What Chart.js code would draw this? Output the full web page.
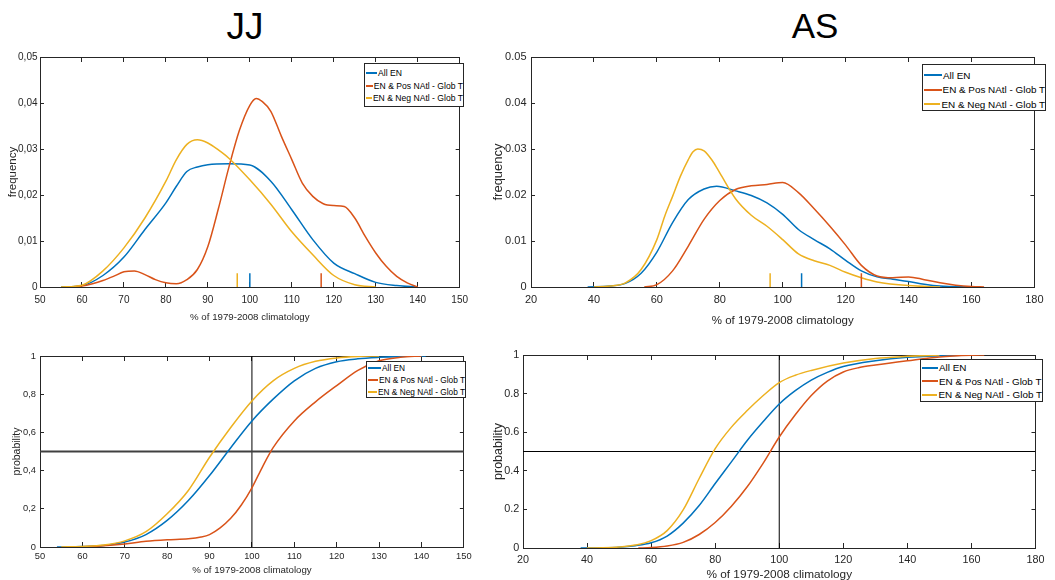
<!DOCTYPE html>
<html>
<head>
<meta charset="utf-8">
<script src="https://cdn.jsdelivr.net/npm/chart.js@4.4.1/dist/chart.umd.min.js"></script>
<style>
  body { margin: 0; background: #fff; width: 1055px; height: 580px; overflow: hidden; position: relative;
         font-family: 'Liberation Sans', Arial, sans-serif; }
  .panel { position: absolute; }
  .title { position: absolute; top: 6px; width: 120px; text-align: center; color: #000; }
  .legend { position: absolute; background: #fff; border: 1px solid #262626; box-sizing: border-box; color: #000; }
  .legend .row { display: flex; align-items: center; white-space: nowrap; }
  .legend .ln { display: inline-block; height: 2px; margin-right: 1px; }
</style>
</head>
<body>
<div class="title" style="left:185px; font-size:37px;">JJ</div>
<div class="title" style="left:755px; font-size:35px;">AS</div>

<div class="panel" style="left:0; top:40px; width:480px; height:300px;"><canvas id="jjPdf"></canvas></div>
<div class="panel" style="left:480px; top:40px; width:575px; height:300px;"><canvas id="asPdf"></canvas></div>
<div class="panel" style="left:0; top:340px; width:480px; height:240px;"><canvas id="jjCdf"></canvas></div>
<div class="panel" style="left:480px; top:340px; width:575px; height:250px;"><canvas id="asCdf"></canvas></div>

<div id="legJjPdf" class="legend" style="left:364px; top:63px; width:100px; height:44px; padding:3px 0 0 1px; font-size:8.6px;"></div>
<div id="legAsPdf" class="legend" style="left:922px; top:64px; width:124px; height:47px; padding:3px 0 0 1px; font-size:9.9px;"></div>
<div id="legJjCdf" class="legend" style="left:366px; top:361px; width:100px; height:37px; padding:0 0 0 1px; font-size:8.3px;"></div>
<div id="legAsCdf" class="legend" style="left:920px; top:359px; width:123px; height:43px; padding:1px 0 0 1px; font-size:9.9px;"></div>

<script>
// ---- data ----
const seriesNames = ['All EN', 'EN & Pos NAtl - Glob T', 'EN & Neg NAtl - Glob T'];
const seriesColors = ['#0072BD', '#D95319', '#EDB120'];

// JJ, probability density
const jjPdfBlueX = [55, 60, 65, 70, 75, 80, 82.5, 85, 87.5, 90, 95, 100, 105, 110, 115, 120, 125, 130, 135, 140];
const jjPdfBlue  = [0, 0.0003, 0.0025, 0.0065, 0.0125, 0.0183, 0.0219, 0.0251, 0.0261, 0.0266, 0.0268, 0.0265, 0.023, 0.0168, 0.0103, 0.0052, 0.0029, 0.001, 0.0003, 0];
const jjPdfRedX  = [57, 60, 62.5, 65, 67.5, 70, 72.5, 75, 77.5, 80, 82.5, 85, 87.5, 90, 92.5, 95, 97.5, 100, 101.5, 103, 105, 107.5, 110, 112.5, 115, 117.5, 120, 122.5, 125, 127.5, 130, 132.5, 135, 137.5, 140];
const jjPdfRed   = [0, 0.0002, 0.0007, 0.0014, 0.0023, 0.0033, 0.0035, 0.0027, 0.0016, 0.0009, 0.0007, 0.0016, 0.0038, 0.0088, 0.017, 0.026, 0.034, 0.0395, 0.041, 0.0403, 0.0382, 0.0328, 0.0277, 0.0226, 0.0197, 0.0181, 0.0177, 0.0175, 0.015, 0.011, 0.0074, 0.0045, 0.0023, 0.0009, 0];
const jjPdfYelX  = [55, 60, 65, 70, 75, 80, 82.5, 85, 87.5, 90, 92.5, 95, 100, 105, 110, 115, 120, 125, 130];
const jjPdfYel   = [0, 0.0004, 0.0035, 0.0085, 0.015, 0.023, 0.0277, 0.031, 0.032, 0.0313, 0.0298, 0.028, 0.0233, 0.018, 0.012, 0.007, 0.0025, 0.0005, 0];
const jjMedians  = [100, 117, 97];     // blue, red, yellow
const medianMark = 0.003;

// AS, probability density
const asPdfBlueX = [38, 45, 50, 55, 60, 65, 70, 75, 79, 85, 90, 95, 100, 105, 110, 115, 120, 125, 130, 135, 140, 145, 150, 160];
const asPdfBlue  = [0, 0.0002, 0.0008, 0.003, 0.0076, 0.014, 0.019, 0.0213, 0.0219, 0.0209, 0.0199, 0.0183, 0.0158, 0.0125, 0.0103, 0.0083, 0.0058, 0.0035, 0.0022, 0.0017, 0.0012, 0.0006, 0.0002, 0];
const asPdfRedX  = [56, 60, 65, 70, 75, 80, 85, 90, 95, 100, 105, 110, 115, 120, 125, 130, 135, 140, 145, 150, 155, 160, 164];
const asPdfRed   = [0, 0.0005, 0.0035, 0.0089, 0.0147, 0.0188, 0.0212, 0.022, 0.0223, 0.0227, 0.0205, 0.017, 0.0132, 0.0091, 0.0047, 0.0024, 0.002, 0.0022, 0.0016, 0.0009, 0.0004, 0.0001, 0];
const asPdfYelX  = [40, 45, 50, 55, 60, 62.5, 65, 67.5, 70, 71.5, 73, 75, 77.5, 80, 85, 90, 95, 100, 105, 110, 115, 120, 125, 130, 140, 150];
const asPdfYel   = [0, 0.0002, 0.0009, 0.0038, 0.0103, 0.0154, 0.0197, 0.0241, 0.0277, 0.0294, 0.030, 0.0296, 0.0276, 0.0248, 0.0192, 0.0156, 0.0132, 0.0103, 0.0072, 0.0057, 0.0047, 0.0032, 0.002, 0.0011, 0.0003, 0];
const asMedians  = [106, 125, 96];

// JJ, cumulative probability
const jjCdfBlueX = [54, 60, 65, 70, 75, 80, 85, 90, 95, 100, 105, 110, 115, 120, 125, 130, 135, 141];
const jjCdfBlue  = [0, 0.002, 0.008, 0.026, 0.065, 0.139, 0.243, 0.374, 0.52, 0.66, 0.774, 0.87, 0.935, 0.97, 0.985, 0.993, 0.998, 1];
const jjCdfRedX  = [57, 60, 65, 70, 75, 80, 85, 88, 90, 92.5, 95, 97.5, 100, 102.5, 105, 110, 115, 120, 125, 130, 135, 140];
const jjCdfRed   = [0, 0.001, 0.006, 0.016, 0.03, 0.038, 0.043, 0.052, 0.065, 0.1, 0.15, 0.22, 0.31, 0.42, 0.52, 0.66, 0.76, 0.845, 0.925, 0.975, 0.993, 1];
const jjCdfYelX  = [55, 60, 65, 70, 75, 80, 85, 90, 95, 100, 105, 110, 115, 120, 125, 130];
const jjCdfYel   = [0, 0.003, 0.01, 0.032, 0.08, 0.174, 0.296, 0.47, 0.626, 0.765, 0.87, 0.935, 0.972, 0.99, 0.998, 1];

// AS, cumulative probability
const asCdfBlueX = [38, 45, 50, 55, 60, 65, 70, 75, 80, 85, 90, 95, 100, 105, 110, 115, 120, 130, 140, 150, 160];
const asCdfBlue  = [0, 0.001, 0.004, 0.012, 0.027, 0.062, 0.129, 0.22, 0.334, 0.445, 0.557, 0.655, 0.746, 0.815, 0.87, 0.91, 0.94, 0.97, 0.988, 0.996, 1];
const asCdfRedX  = [56, 60, 65, 70, 75, 80, 85, 90, 95, 100, 105, 110, 115, 120, 125, 130, 140, 150, 160, 164];
const asCdfRed   = [0, 0.002, 0.01, 0.029, 0.07, 0.132, 0.215, 0.317, 0.44, 0.575, 0.69, 0.79, 0.865, 0.912, 0.935, 0.948, 0.97, 0.99, 0.999, 1];
const asCdfYelX  = [40, 45, 50, 55, 60, 65, 70, 75, 80, 85, 90, 95, 100, 105, 110, 120, 130, 140, 150];
const asCdfYel   = [0, 0.001, 0.005, 0.015, 0.038, 0.09, 0.197, 0.36, 0.515, 0.625, 0.712, 0.79, 0.857, 0.895, 0.92, 0.958, 0.982, 0.993, 1];

const halfProb = 0.5;       // horizontal reference line
const normalPct = 100;      // vertical reference line

// ---- helpers ----
const FONT = "'Liberation Sans', Arial, sans-serif";
const AXIS = '#262626';

function pts(xs, ys) {
  return xs.map((x, i) => ({ x: x, y: ys[i] }));
}

function curve(i, xs, ys) {
  return { data: pts(xs, ys), borderColor: seriesColors[i], borderWidth: 1.5, pointRadius: 0,
           cubicInterpolationMode: 'monotone', fill: false, order: 3 - i };
}

function straight(data, color, width, order) {
  return { data: data, borderColor: color, borderWidth: width, pointRadius: 0, tension: 0, fill: false, order: order };
}

function fmt(v, comma) {
  let s = String(Math.round(v * 1000) / 1000);
  return comma ? s.replace('.', ',') : s;
}

function makeChart(id, p) {
  const ctx = document.getElementById(id).getContext('2d');
  const hidden = { display: false };
  return new Chart(ctx, {
    type: 'line',
    data: { datasets: p.datasets },
    options: {
      responsive: true,
      maintainAspectRatio: false,
      animation: false,
      layout: { padding: { top: p.padTop, right: p.padRight, left: 0, bottom: 0 } },
      plugins: { legend: hidden, tooltip: { enabled: false } },
      scales: {
        x: {
          type: 'linear', position: 'bottom', min: p.xMin, max: p.xMax,
          afterFit: s => { s.height = p.xHeight; },
          ticks: { stepSize: p.xStep, padding: p.xTickPad, color: AXIS, maxRotation: 0, autoSkip: false,
                   font: { family: FONT, size: p.tickSize }, callback: v => fmt(v, p.comma) },
          grid: { drawOnChartArea: false, tickLength: -5, color: AXIS, tickColor: AXIS },
          border: { color: AXIS, width: 1 },
          title: { display: true, text: '% of 1979-2008 climatology', color: AXIS,
                   font: { family: FONT, size: p.xTitleSize }, padding: { top: 0, bottom: p.xTitlePad } }
        },
        y: {
          type: 'linear', position: 'left', min: 0, max: p.yMax,
          afterFit: s => { s.width = p.yWidth; },
          ticks: { stepSize: p.yStep, padding: p.yTickPad, color: AXIS,
                   font: { family: FONT, size: p.tickSize }, callback: v => fmt(v, p.comma) },
          grid: { drawOnChartArea: false, tickLength: -4, color: AXIS, tickColor: AXIS },
          border: { color: AXIS, width: 1 },
          title: { display: true, text: p.yTitle, color: AXIS,
                   font: { family: FONT, size: p.yTitleSize }, padding: { top: p.yTitlePad, bottom: 0 } }
        },
        x2: {
          type: 'linear', position: 'top', min: p.xMin, max: p.xMax,
          afterFit: s => { s.height = 0; },
          ticks: { stepSize: p.xStep, display: false },
          grid: { drawOnChartArea: false, tickLength: -5, color: AXIS, tickColor: AXIS },
          border: { color: AXIS, width: 1 }
        },
        y2: {
          type: 'linear', position: 'right', min: 0, max: p.yMax,
          afterFit: s => { s.width = 0; },
          ticks: { stepSize: p.yStep, display: false },
          grid: { drawOnChartArea: false, tickLength: -4, color: AXIS, tickColor: AXIS },
          border: { color: AXIS, width: 1 }
        }
      }
    }
  });
}

function medianMarks(meds) {
  return meds.map((m, i) => straight([{ x: m, y: 0 }, { x: m, y: medianMark }], seriesColors[i], 1.5, 0));
}

function refLines(xMin, xMax, hColor, hWidth) {
  return [
    straight([{ x: xMin, y: halfProb }, { x: xMax, y: halfProb }], hColor, hWidth, 5),
    straight([{ x: normalPct, y: 0 }, { x: normalPct, y: 1 }], '#000', 1, 5)
  ];
}

function makeLegend(id, sampleW, rowH) {
  const box = document.getElementById(id);
  seriesNames.forEach((name, i) => {
    const row = document.createElement('div');
    row.className = 'row';
    row.style.height = rowH + 'px';
    const ln = document.createElement('span');
    ln.className = 'ln';
    ln.style.width = sampleW + 'px';
    ln.style.background = seriesColors[i];
    row.appendChild(ln);
    row.appendChild(document.createTextNode(name));
    box.appendChild(row);
  });
}

// ---- charts ----
makeChart('jjPdf', {
  xMin: 50, xMax: 150, xStep: 10, yMax: 0.05, yStep: 0.01, comma: true, yTitle: 'frequency',
  tickSize: 10, xTitleSize: 9.7, yTitleSize: 11.5,
  yWidth: 40, xHeight: 53, padTop: 17, padRight: 12,
  xTickPad: 12, yTickPad: 6.5, xTitlePad: 16.6, yTitlePad: 5.6,
  datasets: [curve(0, jjPdfBlueX, jjPdfBlue), curve(1, jjPdfRedX, jjPdfRed), curve(2, jjPdfYelX, jjPdfYel)]
    .concat(medianMarks(jjMedians))
});

makeChart('asPdf', {
  xMin: 20, xMax: 180, xStep: 20, yMax: 0.05, yStep: 0.01, comma: false, yTitle: 'frequency',
  tickSize: 11, xTitleSize: 11.5, yTitleSize: 13,
  yWidth: 51, xHeight: 53, padTop: 17, padRight: 9,
  xTickPad: 11.4, yTickPad: 8.5, xTitlePad: 12, yTitlePad: 10.7,
  datasets: [curve(0, asPdfBlueX, asPdfBlue), curve(1, asPdfRedX, asPdfRed), curve(2, asPdfYelX, asPdfYel)]
    .concat(medianMarks(asMedians))
});

makeChart('jjCdf', {
  xMin: 50, xMax: 150, xStep: 10, yMax: 1, yStep: 0.2, comma: true, yTitle: 'probability',
  tickSize: 9.3, xTitleSize: 9.7, yTitleSize: 10.5,
  yWidth: 40, xHeight: 33, padTop: 16, padRight: 12,
  xTickPad: 8.4, yTickPad: 8, xTitlePad: 4, yTitlePad: 10.7,
  datasets: [curve(0, jjCdfBlueX, jjCdfBlue), curve(1, jjCdfRedX, jjCdfRed), curve(2, jjCdfYelX, jjCdfYel)]
    .concat(refLines(50, 150, '#404040', 2))
});

makeChart('asCdf', {
  xMin: 20, xMax: 180, xStep: 20, yMax: 1, yStep: 0.2, comma: false, yTitle: 'probability',
  tickSize: 10.8, xTitleSize: 11.8, yTitleSize: 12.5,
  yWidth: 43, xHeight: 42, padTop: 15, padRight: 8,
  xTickPad: 10.5, yTickPad: 7.7, xTitlePad: 8, yTitlePad: 11.5,
  datasets: [curve(0, asCdfBlueX, asCdfBlue), curve(1, asCdfRedX, asCdfRed), curve(2, asCdfYelX, asCdfYel)]
    .concat(refLines(20, 180, '#000', 1))
});

makeLegend('legJjPdf', 11, 12.5);
makeLegend('legAsPdf', 18, 14.5);
makeLegend('legJjCdf', 13, 12);
makeLegend('legAsCdf', 16, 13.5);
</script>
</body>
</html>
